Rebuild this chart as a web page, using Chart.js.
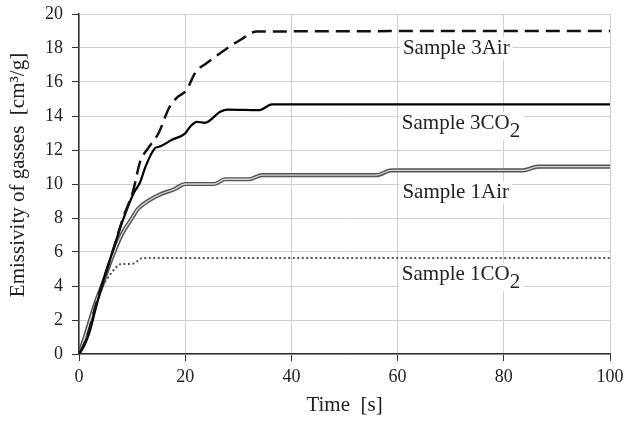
<!DOCTYPE html>
<html>
<head>
<meta charset="utf-8">
<script src="https://cdn.jsdelivr.net/npm/chart.js@4.4.0/dist/chart.umd.min.js"></script>
<style>
  html, body { margin: 0; padding: 0; background: #fff; }
  #wrap { width: 627px; height: 423px; position: relative; }
</style>
</head>
<body>
<div id="wrap"><canvas id="emisChart"></canvas></div>
<script>
// time [s] and emissivity [cm3/g]
const s3AirT = [0, 1, 2, 3, 4.3, 6.3, 8.3, 10.2, 11.5, 13, 15, 17, 18.5, 20.2, 22, 24, 28, 30.5, 33.5, 100];
const s3AirV = [0, 0.6, 1.5, 2.7, 4, 6, 8, 9.6, 11.3, 12.1, 13, 14.5, 15.1, 15.5, 16.6, 17.1, 18, 18.5, 18.97, 19];

const s3CO2T = [0, 1, 2, 3, 4.3, 6.3, 8.3, 10.2, 11.5, 12.5, 14.3, 15.2, 17.5, 20, 21, 22.2, 23.7, 26.6, 28, 34, 36.3, 100];
const s3CO2V = [0, 0.5, 1.3, 2.5, 4, 6, 7.9, 9.4, 10.1, 11, 12.1, 12.2, 12.6, 12.98, 13.4, 13.66, 13.6, 14.25, 14.38, 14.35, 14.68, 14.68];

const s1AirT = [0, 1, 2, 3, 4.3, 6, 8, 10, 11, 13, 15, 18, 20, 25.5, 27.5, 32, 34.5, 56, 58.8, 83.6, 86.4, 100];
const s1AirV = [0, 0.9, 1.9, 2.9, 4, 5.5, 7, 8, 8.5, 9, 9.35, 9.7, 10, 10, 10.28, 10.28, 10.52, 10.52, 10.8, 10.8, 11.02, 11.02];

const s1CO2T = [0, 1, 2, 3, 4.3, 5.5, 7, 8, 10, 12, 100];
const s1CO2V = [0, 0.8, 1.7, 2.7, 3.9, 4.5, 5.1, 5.3, 5.3, 5.65, 5.65];

const xTicks = [0, 20, 40, 60, 80, 100];
const yTicks = [0, 2, 4, 6, 8, 10, 12, 14, 16, 18, 20];

const seriesNames = ['Sample 3Air', 'Sample 3CO', 'Sample 1Air', 'Sample 1CO'];
const seriesSub = ['', '2', '', '2'];
// where each inline label starts (time) and sits (baseline value)
const labelT = [61.0, 60.8, 60.9, 60.8];
const labelV = [17.63, 13.22, 9.16, 4.35];

const pts = (t, v) => t.map((x, i) => ({ x: x, y: v[i] }));
const serif = "'Liberation Serif', 'Times New Roman', serif";

const base = {
  fill: false,
  pointRadius: 0,
  pointHoverRadius: 0,
  cubicInterpolationMode: 'monotone'
};

const inlineLabels = {
  id: 'inlineLabels',
  afterDatasetsDraw(chart) {
    const { ctx, scales: { x, y } } = chart;
    ctx.save();
    ctx.font = '21px ' + serif;
    ctx.textBaseline = 'alphabetic';
    ctx.textAlign = 'left';
    seriesNames.forEach((name, i) => {
      const px = x.getPixelForValue(labelT[i]);
      const py = y.getPixelForValue(labelV[i]);
      const w1 = ctx.measureText(name).width;
      const w2 = seriesSub[i] ? ctx.measureText(seriesSub[i]).width : 0;
      ctx.fillStyle = '#fff';
      ctx.fillRect(px - 3, py - 17, w1 + w2 + 6, seriesSub[i] ? 28 : 22);
      ctx.fillStyle = '#222';
      ctx.fillText(name, px, py);
      if (seriesSub[i]) ctx.fillText(seriesSub[i], px + w1, py + 8);
    });
    // y axis title
    ctx.translate(18, 175);
    ctx.rotate(-Math.PI / 2);
    ctx.textAlign = 'center';
    ctx.textBaseline = 'middle';
    ctx.fillText('Emissivity of gasses  [cm\u00B3/g]', 0, 0);
    ctx.restore();
  }
};

const ctx = document.getElementById('emisChart').getContext('2d');
const emisChart = new Chart(ctx, {
  type: 'line',
  data: {
    datasets: [
      Object.assign({}, base, {
        label: 'Sample 3Air',
        data: pts(s3AirT, s3AirV),
        borderColor: '#111',
        borderWidth: 2.5,
        borderDash: [14, 7],
        order: 0
      }),
      Object.assign({}, base, {
        label: 'Sample 3CO2',
        data: pts(s3CO2T, s3CO2V),
        borderColor: '#000',
        borderWidth: 2.2,
        order: 1
      }),
      Object.assign({}, base, {
        label: 'Sample 1Air',
        data: pts(s1AirT, s1AirV),
        borderColor: '#d4d4d4',
        borderWidth: 1.3,
        order: 2
      }),
      Object.assign({}, base, {
        label: 'Sample 1Air outline',
        data: pts(s1AirT, s1AirV),
        borderColor: '#555',
        borderWidth: 4.2,
        order: 3
      }),
      Object.assign({}, base, {
        label: 'Sample 1CO2',
        data: pts(s1CO2T, s1CO2V),
        borderColor: '#555',
        borderWidth: 2,
        borderDash: [2, 2.5],
        order: 4
      })
    ]
  },
  options: {
    responsive: true,
    maintainAspectRatio: false,
    animation: false,
    layout: {
      padding: 0
    },
    plugins: {
      legend: { display: false },
      tooltip: { enabled: false }
    },
    scales: {
      x: {
        type: 'linear',
        min: 0,
        max: 100,
        afterBuildTicks: (scale) => { scale.ticks = xTicks.map(v => ({ value: v })); },
        grid: {
          color: '#d0d0d0',
          lineWidth: 1,
          tickColor: '#333',
          tickLength: 7
        },
        border: { color: '#333', width: 1.5 },
        ticks: {
          font: { family: serif, size: 18 },
          color: '#222',
          padding: 5,
          maxRotation: 0
        },
        title: {
          display: true,
          text: 'Time  [s]',
          font: { family: serif, size: 21 },
          color: '#222',
          padding: { top: 0, bottom: 5 }
        },
        afterFit: (scale) => {
          scale.height = 69;
          scale.paddingLeft = 0;
          scale.paddingRight = 17;
        }
      },
      y: {
        type: 'linear',
        min: 0,
        max: 20,
        afterBuildTicks: (scale) => { scale.ticks = yTicks.map(v => ({ value: v })); },
        grid: {
          color: '#d0d0d0',
          lineWidth: 1,
          tickColor: '#333',
          tickLength: 7
        },
        border: { color: '#333', width: 1.5 },
        ticks: {
          font: { family: serif, size: 18 },
          color: '#222',
          padding: 9
        },
        afterFit: (scale) => {
          scale.width = 79;
          scale.paddingTop = 14;
          scale.paddingBottom = 0;
        }
      }
    }
  },
  plugins: [inlineLabels]
});
</script>
</body>
</html>
